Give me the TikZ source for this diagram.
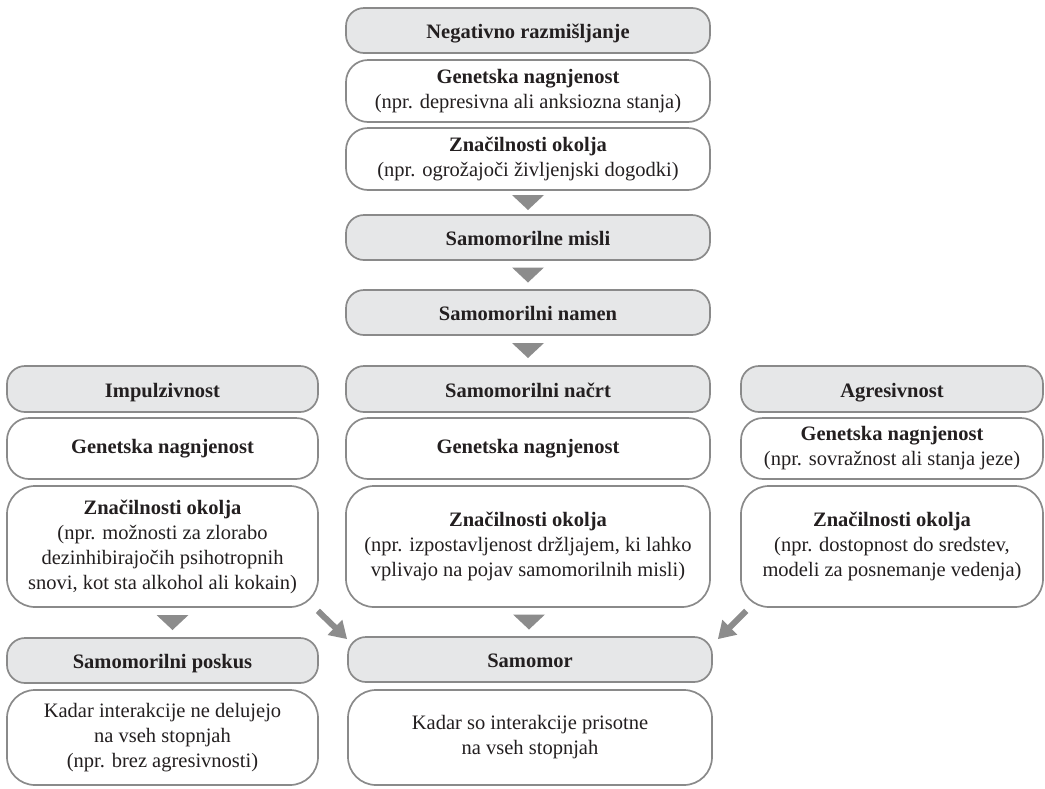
\documentclass[tikz,border=0pt]{standalone}
\usepackage{fontspec}
\setmainfont{Liberation Serif}
\usetikzlibrary{arrows.meta,calc}
\definecolor{boxfill}{HTML}{E6E7E8}
\definecolor{boxline}{HTML}{8A8A8A}
\definecolor{arr}{HTML}{8C8C8C}
\definecolor{ink}{HTML}{231F20}
\begin{document}
\begin{tikzpicture}[x=1pt,y=-1pt,
  base/.style={draw=boxline, line width=1.7pt, align=center, text=ink, inner sep=0pt,
    font=\fontsize{20.5}{25}\selectfont},
  graybox/.style={draw=boxline, line width=1.7pt, text=ink, inner sep=0pt, fill=boxfill,
    rounded corners=18pt, text height=18pt, text depth=2pt,
    font=\fontsize{20.5}{25}\selectfont\bfseries},
  whitebox/.style={base, fill=white, rounded corners=22pt},
  tallbox/.style={base, fill=white, rounded corners=28pt},
  tri/.style={fill=arr},
  diag/.style={draw=arr, line width=6pt, -{Triangle[width=20pt,length=17pt]}}]
\useasboundingbox (0,0) rectangle (1045,788);

% central chain
\node[graybox, minimum width=364pt, minimum height=45pt] (neg) at (528,30.5) {Negativno razmišljanje};
\node[whitebox, minimum width=364pt, minimum height=62pt] (gen1) at (528,91) {\textbf{Genetska nagnjenost}\\(npr. depresivna ali anksiozna stanja)};
\node[whitebox, minimum width=364pt, minimum height=62pt] (zn1) at (528,159) {\textbf{Značilnosti okolja}\\(npr. ogrožajoči življenjski dogodki)};
\node[graybox, minimum width=364pt, minimum height=45pt] (misli) at (528,237.5) {Samomorilne misli};
\node[graybox, minimum width=364pt, minimum height=45pt] (namen) at (528,312.5) {Samomorilni namen};

% row of three columns
\node[graybox, minimum width=311pt, minimum height=46pt] (impulz) at (162.5,389) {Impulzivnost};
\node[graybox, minimum width=364pt, minimum height=46pt] (nacrt) at (528,389) {Samomorilni načrt};
\node[graybox, minimum width=302pt, minimum height=46pt] (agres) at (892,389) {Agresivnost};

\node[whitebox, minimum width=311pt, minimum height=61pt] (genL) at (162.5,448.5) {\textbf{Genetska nagnjenost}};
\node[whitebox, minimum width=364pt, minimum height=61pt] (genM) at (528,448.5) {\textbf{Genetska nagnjenost}};
\node[whitebox, minimum width=302pt, minimum height=61pt] (genR) at (892,448.5) {\textbf{Genetska nagnjenost}\\(npr. sovražnost ali stanja jeze)};

\node[tallbox, minimum width=311pt, minimum height=121pt] (znL) at (162.5,546.5) {\textbf{Značilnosti okolja}\\(npr. možnosti za zlorabo\\dezinhibirajočih psihotropnih\\snovi, kot sta alkohol ali kokain)};
\node[tallbox, minimum width=364pt, minimum height=121pt] (znM) at (528,546.5) {\textbf{Značilnosti okolja}\\(npr. izpostavljenost držljajem, ki lahko\\vplivajo na pojav samomorilnih misli)};
\node[tallbox, minimum width=302pt, minimum height=121pt] (znR) at (892,546.5) {\textbf{Značilnosti okolja}\\(npr. dostopnost do sredstev,\\modeli za posnemanje vedenja)};

% outcomes
\node[graybox, minimum width=311pt, minimum height=45pt] (poskus) at (162.5,660.5) {Samomorilni poskus};
\node[graybox, minimum width=364pt, minimum height=45pt] (samomor) at (530,659.5) {Samomor};
\node[tallbox, minimum width=311pt, minimum height=95pt] (botL) at (162.5,737.5) {Kadar interakcije ne delujejo\\na vseh stopnjah\\(npr. brez agresivnosti)};
\node[tallbox, minimum width=364pt, minimum height=95pt] (botM) at (530,737.5) {Kadar so interakcije prisotne\\na vseh stopnjah};

% triangle connectors
\fill[tri] ($(zn1.south)!0.5!(misli.north)$) ++(-16,-7.5) -- ++(32,0) -- ++(-16,15) -- cycle;
\fill[tri] ($(misli.south)!0.5!(namen.north)$) ++(-16,-7.5) -- ++(32,0) -- ++(-16,15) -- cycle;
\fill[tri] ($(namen.south)!0.5!(nacrt.north)$) ++(-16,-7.5) -- ++(32,0) -- ++(-16,15) -- cycle;
\fill[tri] ($(znL.south)!0.5!(poskus.north)+(10,0)$) ++(-16,-7.5) -- ++(32,0) -- ++(-16,15) -- cycle;
\fill[tri] ($(znM.south)!0.5!(samomor.north)$) ++(-16,-7.5) -- ++(32,0) -- ++(-16,15) -- cycle;

% diagonal arrows
\draw[diag] ($(znL.south east)+(-1,3)$) -- ($(samomor.north west)+(0,3)$);
\draw[diag] ($(znR.south west)+(6,3)$) -- ($(samomor.north east)+(5,3)$);
\end{tikzpicture}
\end{document}
